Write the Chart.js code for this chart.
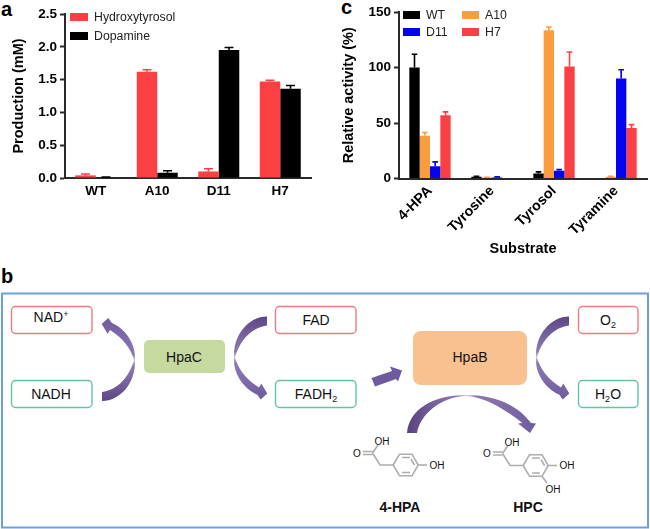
<!DOCTYPE html>
<html>
<head>
<meta charset="utf-8">
<script src="https://cdn.jsdelivr.net/npm/chart.js@4"></script>
<style>
  html, body { margin: 0; padding: 0; background: #fff; }
  body { width: 650px; height: 529px; position: relative; overflow: hidden; font-family: "Liberation Sans", Arial, sans-serif; filter: blur(0.3px); }
  canvas { position: absolute; }
  .letter { position: absolute; font-weight: bold; font-size: 20px; line-height: 20px; color: #000; }
  .leg { position: absolute; display: flex; align-items: center; font-size: 12.3px; line-height: 14px; color: #222; white-space: nowrap; }
  .leg i { display: block; height: 8px; margin-right: 6px; }
  #diagram { position: absolute; left: 0; top: 0; }
  #diagram text { font-family: "Liberation Sans", Arial, sans-serif; fill: #111; }
</style>
</head>
<body>
<div class="letter" style="left:1px;top:-1px">a</div>
<div class="letter" style="left:341px;top:-3px">c</div>
<div class="letter" style="left:1px;top:266px">b</div>

<canvas id="chartA" width="325" height="215" style="left:0;top:0"></canvas>
<canvas id="chartC" width="325" height="265" style="left:325px;top:0"></canvas>

<svg id="diagram" width="650" height="529" viewBox="0 0 650 529">
  <defs>
    <linearGradient id="arrowFill" x1="0" y1="1" x2="0" y2="0">
      <stop offset="0" stop-color="#5c4685"/>
      <stop offset="0.42" stop-color="#8d7ab2"/>
      <stop offset="0.49" stop-color="#cfc5e0"/>
      <stop offset="0.56" stop-color="#8d7ab2"/>
      <stop offset="1" stop-color="#6f5a9e"/>
    </linearGradient>
    <linearGradient id="arcFill" x1="0" y1="0" x2="1" y2="0">
      <stop offset="0" stop-color="#584280"/>
      <stop offset="0.38" stop-color="#8d7ab2"/>
      <stop offset="0.46" stop-color="#cfc5e0"/>
      <stop offset="0.54" stop-color="#8d7ab2"/>
      <stop offset="1" stop-color="#6f5a9e"/>
    </linearGradient>
    <path id="curve" d="M102,392 C117,390 129,378 134,360 C131,349 123,338 110,330 L107.7,334 L101.7,324 L108.3,318 L111.7,322.7 C127,330 136,345 135,360 C136,383 120,401 102,401 Z"/>
  </defs>

  <rect x="2" y="293.5" width="646" height="234" fill="#fff" stroke="#6c9fdc" stroke-width="2"/>

  <!-- cofactor boxes -->
  <g fill="#fff" stroke-width="1.4">
    <rect x="11.5" y="306.5" width="80.5" height="27" rx="4" stroke="#ee7a82"/>
    <rect x="11.5" y="380.5" width="80.5" height="27" rx="4" stroke="#62c5a0"/>
    <rect x="275.5" y="306.5" width="80.5" height="27" rx="4" stroke="#ee7a82"/>
    <rect x="275.5" y="380.5" width="80.5" height="27" rx="4" stroke="#62c5a0"/>
    <rect x="578.5" y="306.5" width="59.5" height="27" rx="4" stroke="#ee7a82"/>
    <rect x="578.5" y="380.5" width="59.5" height="27" rx="4" stroke="#62c5a0"/>
  </g>
  <rect x="144" y="340" width="81" height="33" rx="5" fill="#c6d99e"/>
  <rect x="413" y="331" width="114" height="54" rx="8" fill="#f9c190"/>

  <!-- arrows -->
  <use href="#curve" fill="url(#arrowFill)"/>
  <use href="#curve" fill="url(#arrowFill)" transform="matrix(-1 0 0 -1 369 717.5)"/>
  <use href="#curve" fill="url(#arrowFill)" transform="matrix(-1 0 0 -1 671 717.5)"/>
  <path d="M371.5,378 L392,371 L390,366.5 L402,370.5 L398,381.5 L396,379 L375,386.5 Z" fill="#6f5a9e"/>
  <path d="M407,433 C409,410 432,395 466,395 C492,395 516,403 531,423 L536,423.5 L530,433 L518,423.5 L522.5,423 C504,409 486,397.5 467,396 C440,396.5 420,415 417,433 Z" fill="url(#arcFill)"/>

  <!-- molecule lines -->
  <g fill="none" stroke="#adadad" stroke-width="1.6">
    <g id="hpaMol">
      <path d="M363,451.5 H372.5 M363,454.5 H372.5"/>
      <path d="M372.5,453 L378,445 M372.5,453 L380,465 H393.2"/>
      <path d="M393.2,465 L399.5,454.2 H412 L418.2,465 L412,475.8 H399.5 Z"/>
      <path d="M402,457.5 H410 M402,472.5 H410 M414.5,465 L411,459"/>
    </g>
    <path d="M418.2,465 H427"/>
    <use href="#hpaMol" transform="translate(130,0.5)"/>
    <path d="M548.2,465.5 H557 M542,476.3 L547,483"/>
  </g>
  <g font-size="10" text-anchor="middle">
    <text x="382" y="444.5">OH</text>
    <text x="357" y="456.5">O</text>
    <text x="437" y="469">OH</text>
    <text x="512" y="445.5">OH</text>
    <text x="487" y="457">O</text>
    <text x="567" y="468.5">OH</text>
    <text x="553" y="493">OH</text>
  </g>

  <!-- labels -->
  <g font-size="14" text-anchor="middle">
    <text x="51" y="322">NAD<tspan font-size="9" dy="-5">+</tspan></text>
    <text x="51" y="398.5">NADH</text>
    <text x="316" y="324.5">FAD</text>
    <text x="316" y="398.5">FADH<tspan font-size="9" dy="3">2</tspan></text>
    <text x="608" y="325">O<tspan font-size="9" dy="3">2</tspan></text>
    <text x="608" y="398.5">H<tspan font-size="9" dy="3">2</tspan><tspan dy="-3">O</tspan></text>
    <text x="184" y="361.5">HpaC</text>
    <text x="470" y="362">HpaB</text>
  </g>
  <g font-size="14" font-weight="bold" text-anchor="middle">
    <text x="400" y="512">4-HPA</text>
    <text x="528" y="512">HPC</text>
  </g>
</svg>

<script>
// --- data: panel a ---
const strainLabels = ['WT', 'A10', 'D11', 'H7'];
const hydroxytyrosol = [0.04, 1.62, 0.10, 1.47];
const hydroxytyrosolErr = [0.02, 0.03, 0.04, 0.02];
const dopamine = [0.01, 0.08, 1.95, 1.36];
const dopamineErr = [0.005, 0.03, 0.04, 0.05];
const productionTicks = [0, 0.5, 1, 1.5, 2, 2.5];

// --- data: panel c ---
const substrateLabels = ['4-HPA', 'Tyrosine', 'Tyrosol', 'Tyramine'];
const wtActivity = [100, 1.5, 4.5, 0];
const wtErr = [12, 0.5, 1.5, 0];
const a10Activity = [38.5, 0.8, 133.5, 1.5];
const a10Err = [3, 0.3, 3, 0.5];
const d11Activity = [11, 1, 7, 90];
const d11Err = [4, 0.5, 1, 8];
const h7Activity = [57, 0, 101, 45.5];
const h7Err = [3, 0, 13, 3];
const activityTicks = [0, 50, 100, 150];

const RED = '#fb4044';
const BLACK = '#000000';
const ORANGE = '#fb9d3e';
const BLUE = '#0303ee';

// 上方誤差線
const errorBars = {
    id: 'errorBars',
    afterDatasetsDraw(chart) {
        const { ctx, scales: { y } } = chart;
        chart.data.datasets.forEach((ds, i) => {
            const bars = chart.getDatasetMeta(i).data;
            ctx.save();
            ctx.strokeStyle = ds.backgroundColor;
            ctx.lineWidth = 1.6;
            bars.forEach((bar, j) => {
                if (!ds.data[j] && !ds.err[j]) return;
                const top = y.getPixelForValue(ds.data[j] + ds.err[j]);
                const base = y.getPixelForValue(ds.data[j]);
                ctx.beginPath();
                ctx.moveTo(bar.x, base);
                ctx.lineTo(bar.x, top);
                ctx.moveTo(bar.x - ds.cap, top);
                ctx.lineTo(bar.x + ds.cap, top);
                ctx.stroke();
            });
            ctx.restore();
        });
    }
};

const axisFont = { family: '"Liberation Sans", Arial, sans-serif', size: 13.5, weight: 'bold' };
const rotatedFont = { family: '"Liberation Sans", Arial, sans-serif', size: 14.3, weight: 'bold' };
const titleFont = { family: '"Liberation Sans", Arial, sans-serif', size: 14.5, weight: 'bold' };

const makeChart = (id, labels, datasets, yMax, yTicks, yTitle, layout, xOpts) => {
    return new Chart(document.getElementById(id), {
        type: 'bar',
        data: { labels: labels, datasets: datasets },
        plugins: [errorBars],
        options: {
            responsive: false,
            animation: false,
            layout: { padding: layout.padding },
            plugins: { legend: { display: false }, tooltip: { enabled: false } },
            datasets: { bar: { categoryPercentage: 0.667, barPercentage: 1 } },
            scales: {
                x: {
                    grid: { display: false, drawTicks: false },
                    border: { color: '#2a2a2a', width: 2 },
                    afterFit: (s) => { s.height = layout.xHeight; },
                    ...xOpts
                },
                y: {
                    min: 0,
                    max: yMax,
                    afterBuildTicks: (s) => { s.ticks = yTicks.map((v) => ({ value: v })); },
                    grid: { drawOnChartArea: false, drawTicks: true, tickLength: 5, tickWidth: 2, tickColor: '#2a2a2a' },
                    border: { color: '#2a2a2a', width: 2 },
                    ticks: {
                        color: '#000', font: axisFont, padding: 3,
                        callback: (v) => layout.decimals ? Number(v).toFixed(layout.decimals) : v
                    },
                    title: { display: true, text: yTitle, color: '#000', font: titleFont, padding: { top: layout.titleTop, bottom: 0 } },
                    afterFit: (s) => { s.width = layout.yWidth; }
                }
            }
        }
    });
};

makeChart('chartA', strainLabels, [
    { label: 'Hydroxytyrosol', data: hydroxytyrosol, err: hydroxytyrosolErr, backgroundColor: RED, cap: 4.5 },
    { label: 'Dopamine', data: dopamine, err: dopamineErr, backgroundColor: BLACK, cap: 4.5 }
], 2.5, productionTicks, 'Production (mM)',
    { padding: { top: 14, right: 14, left: 0, bottom: 0 }, xHeight: 37, yWidth: 65, decimals: 1, titleTop: 10 },
    { ticks: { color: '#000', font: axisFont, padding: 5, maxRotation: 0, minRotation: 0 } });

makeChart('chartC', substrateLabels, [
    { label: 'WT', data: wtActivity, err: wtErr, backgroundColor: BLACK, cap: 2.8 },
    { label: 'A10', data: a10Activity, err: a10Err, backgroundColor: ORANGE, cap: 2.8 },
    { label: 'D11', data: d11Activity, err: d11Err, backgroundColor: BLUE, cap: 2.8 },
    { label: 'H7', data: h7Activity, err: h7Err, backgroundColor: RED, cap: 2.8 }
], 150, activityTicks, 'Relative activity (%)',
    { padding: { top: 12, right: 3, left: 0, bottom: 7 }, xHeight: 79.5, yWidth: 74, decimals: 0, titleTop: 15 },
    {
        ticks: { color: '#000', font: rotatedFont, padding: 4, maxRotation: 45, minRotation: 45, labelOffset: 0 },
        title: { display: true, text: 'Substrate', color: '#000', font: titleFont, padding: 0 }
    });

// --- 圖例 ---
const addLegend = (label, color, left, top, swatch) => {
    const el = document.createElement('div');
    el.className = 'leg';
    el.style.left = left + 'px';
    el.style.top = top + 'px';
    el.innerHTML = `<i style="width:${swatch}px;background:${color}"></i><span>${label}</span>`;
    document.body.appendChild(el);
};

addLegend('Hydroxytyrosol', RED, 70, 10, 18);
addLegend('Dopamine', BLACK, 70, 29, 18);
addLegend('WT', BLACK, 403, 8, 17);
addLegend('A10', ORANGE, 462, 8, 17);
addLegend('D11', BLUE, 403, 25, 17);
addLegend('H7', RED, 462, 25, 17);
</script>
</body>
</html>
